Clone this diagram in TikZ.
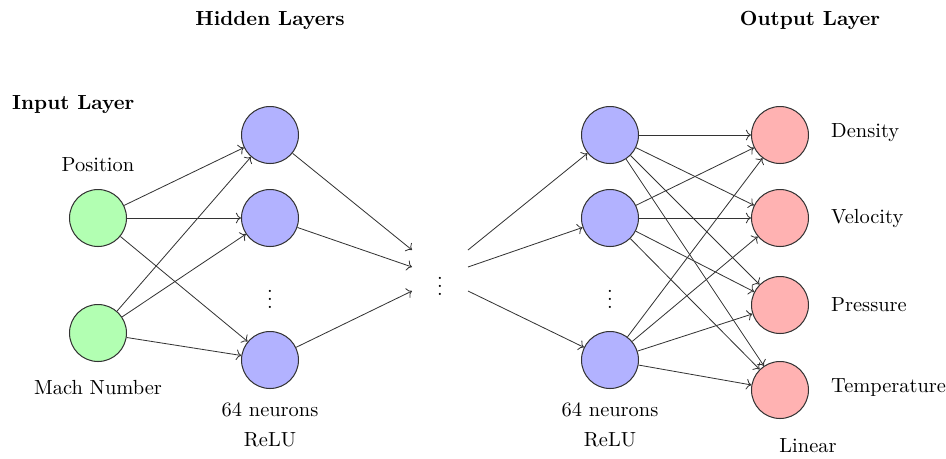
\documentclass[tikz,border=0pt]{standalone}
\usepackage{tikz}
\usetikzlibrary{arrows.meta,positioning,calc}

\begin{document}
\begin{tikzpicture}[
  x=0.0172cm, y=-0.0172cm,
  neuron/.style={circle, draw=black!80, line width=0.5pt, minimum size=9.8mm, inner sep=0pt},
  inp/.style={neuron, fill=green!30},
  hid/.style={neuron, fill=blue!30},
  outp/.style={neuron, fill=red!30},
  title/.style={font=\bfseries},
  lbl/.style={font=\normalsize},
  dots/.style={inner sep=0pt},
  conn/.style={->, black!80, line width=0.4pt},
]
  \useasboundingbox (0,0) rectangle (946,458);

  %% ── Input layer ──
  \node[inp] (in1) at (98,218) {};
  \node[inp] (in2) at (98,333) {};
  \node[lbl] (pos) at (98,165) {Position};
  \node[lbl] (mach) at (98,388) {Mach Number};
  \node[title, anchor=west] (tin) at (5,105) {Input Layer};

  %% ── First hidden layer ──
  \node[hid] (ha1) at (270,135) {};
  \node[hid] (ha2) at (270,218) {};
  \node[hid] (ha3) at (270,360) {};
  \node[dots] (hadots) at (270,293) {$\vdots$};
  \node[lbl] (haneu) at (270,410) {64 neurons};
  \node[lbl] (haact) at (270,440) {ReLU};

  %% ── Middle ellipsis ──
  \node[dots] (mid) at (440,280) {$\vdots$};
  \coordinate (ml1) at (412,250);
  \coordinate (ml2) at (412,267);
  \coordinate (ml3) at (412,291);
  \coordinate (mr1) at (468,250);
  \coordinate (mr2) at (468,267);
  \coordinate (mr3) at (468,291);

  %% ── Second hidden layer ──
  \node[hid] (hb1) at (610,135) {};
  \node[hid] (hb2) at (610,218) {};
  \node[hid] (hb3) at (610,360) {};
  \node[dots] (hbdots) at (610,293) {$\vdots$};
  \node[lbl] (hbneu) at (610,410) {64 neurons};
  \node[lbl] (hbact) at (610,440) {ReLU};
  \node[title] (thid) at (270,20) {Hidden Layers};

  %% ── Output layer ──
  \node[outp] (out1) at (780,135) {};
  \node[outp] (out2) at (780,218) {};
  \node[outp] (out3) at (780,305) {};
  \node[outp] (out4) at (780,390) {};
  \node[lbl, anchor=west] (dens) at (824,133) {Density};
  \node[lbl, anchor=west] (vel) at (824,218) {Velocity};
  \node[lbl, anchor=west] (pres) at (824,305) {Pressure};
  \node[lbl, anchor=west] (temp) at (824,388) {Temperature};
  \node[lbl] (tlin) at (808,446) {Linear};
  \node[title] (tout) at (810,20) {Output Layer};

  %% ── Connections ──
  \foreach \i in {1,2}
    \foreach \j in {1,2,3}
      \draw[conn] (in\i) -- (ha\j);

  \foreach \j in {1,2,3}
    \draw[conn] (ha\j) -- (ml\j);
  \foreach \j in {1,2,3}
    \draw[conn] (mr\j) -- (hb\j);

  \foreach \i in {1,2,3}
    \foreach \j in {1,2,3,4}
      \draw[conn] (hb\i) -- (out\j);

\end{tikzpicture}
\end{document}
